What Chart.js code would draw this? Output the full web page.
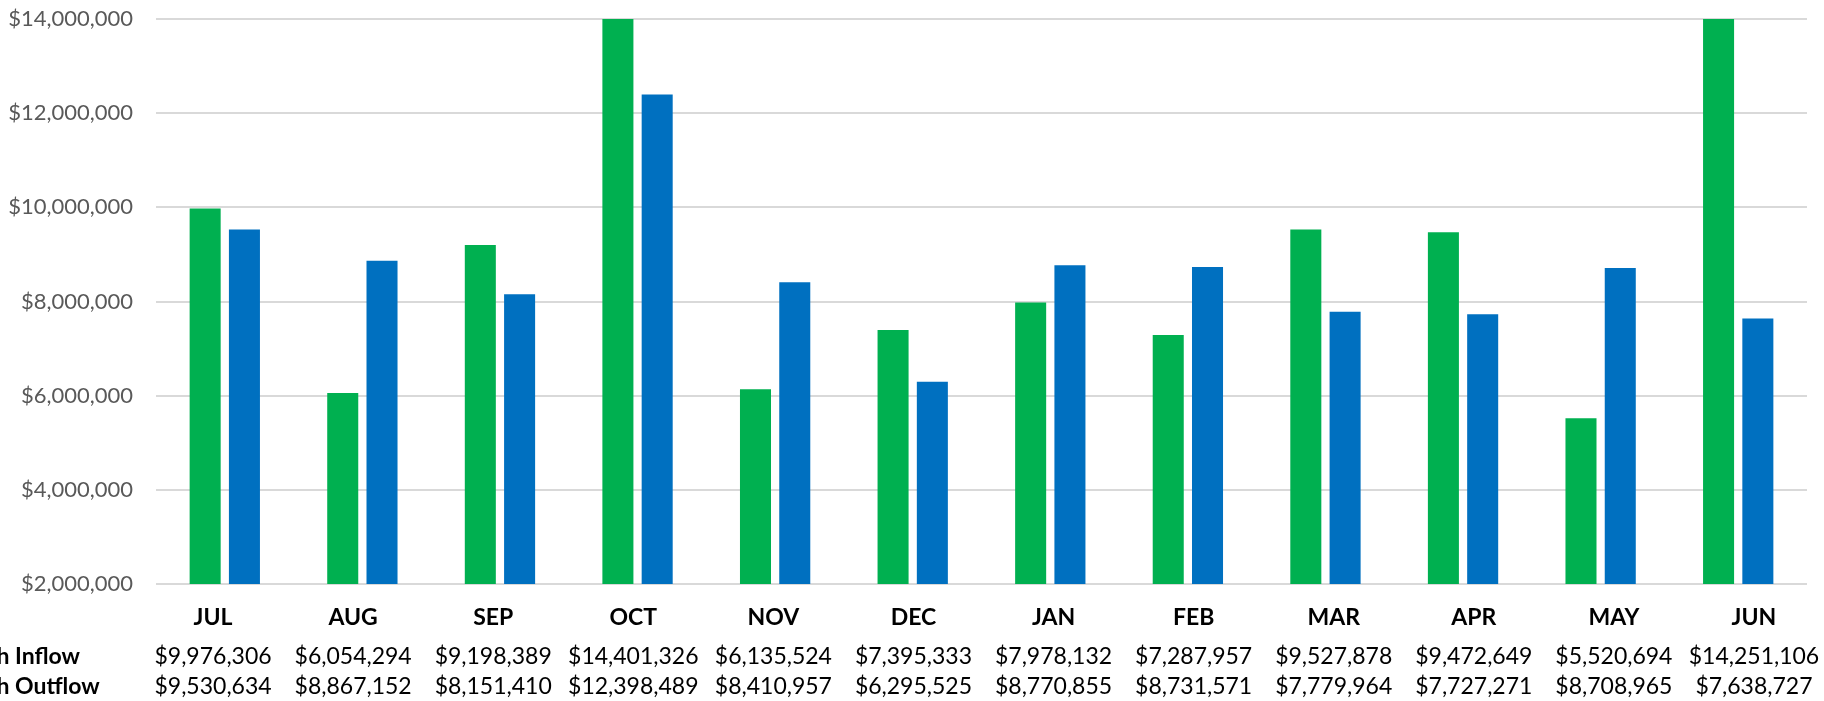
<!DOCTYPE html>
<html>
<head>
<meta charset="utf-8">
<script src="https://cdn.jsdelivr.net/npm/chart.js@4/dist/chart.umd.min.js"></script>
<style>
  html, body { margin: 0; padding: 0; background: #ffffff; }
  #wrap { width: 1824px; height: 701px; position: relative; }
</style>
</head>
<body>
<div id="wrap"><canvas id="c" width="1824" height="701"></canvas></div>
<script>
const months = ["JUL", "AUG", "SEP", "OCT", "NOV", "DEC", "JAN", "FEB", "MAR", "APR", "MAY", "JUN"];
const cashInflow = [9976306, 6054294, 9198389, 14401326, 6135524, 7395333, 7978132, 7287957, 9527878, 9472649, 5520694, 14251106];
const cashOutflow = [9530634, 8867152, 8151410, 12398489, 8410957, 6295525, 8770855, 8731571, 7779964, 7727271, 8708965, 7638727];
const rowLabels = ["Cash Inflow", "Cash Outflow"];
const yTicks = [2000000, 4000000, 6000000, 8000000, 10000000, 12000000, 14000000];

const fmt = v => "$" + Math.round(v).toLocaleString("en-US");
const FONT = "Lato, 'Open Sans', 'Liberation Sans', sans-serif";

const tablePlugin = {
  id: "dataTable",
  afterDraw(chart) {
    const ctx = chart.ctx;
    const ca = chart.chartArea;
    const left = ca.left - 13;
    const colW = (ca.width + 30) / months.length;
    ctx.save();
    ctx.fillStyle = "#000000";
    ctx.textAlign = "center";
    ctx.textBaseline = "alphabetic";
    ctx.font = "bold 23px " + FONT;
    months.forEach((m, i) => ctx.fillText(m, left + (i + 0.5) * colW, 625));
    ctx.font = "23px " + FONT;
    cashInflow.forEach((v, i) => ctx.fillText(fmt(v), left + (i + 0.5) * colW, 664));
    cashOutflow.forEach((v, i) => ctx.fillText(fmt(v), left + (i + 0.5) * colW, 694));
    ctx.font = "bold 23px " + FONT;
    ctx.textAlign = "left";
    const x0 = 80 - ctx.measureText(rowLabels[0]).width;
    ctx.fillText(rowLabels[0], x0, 664);
    ctx.fillText(rowLabels[1], x0, 694);
    ctx.restore();
  }
};

new Chart(document.getElementById("c"), {
  type: "bar",
  data: {
    labels: months,
    datasets: [
      { label: rowLabels[0], data: cashInflow, backgroundColor: "#00B050", borderWidth: 0, clip: 0 },
      { label: rowLabels[1], data: cashOutflow, backgroundColor: "#0070C0", borderWidth: 0, clip: 0 }
    ]
  },
  options: {
    responsive: false,
    animation: false,
    events: [],
    devicePixelRatio: 1,
    layout: { padding: { top: 19, bottom: 117, left: 0, right: 17 } },
    datasets: { bar: { categoryPercentage: 0.571, barPercentage: 0.79 } },
    plugins: { legend: { display: false }, tooltip: { enabled: false } },
    scales: {
      x: { display: false, grid: { display: false } },
      y: {
        min: 2000000,
        max: 14000000,
        afterFit(scale) {
          scale.width = 156;
          scale.paddingTop = 12;
          scale.paddingBottom = 12;
        },
        afterBuildTicks(scale) { scale.ticks = yTicks.map(v => ({ value: v })); },
        border: { display: false },
        grid: { color: "#D9D9D9", lineWidth: 2, drawTicks: false },
        ticks: {
          padding: 23,
          color: "#595959",
          font: { family: FONT, size: 22 },
          callback: v => fmt(v)
        }
      }
    }
  },
  plugins: [tablePlugin]
});
</script>
</body>
</html>
